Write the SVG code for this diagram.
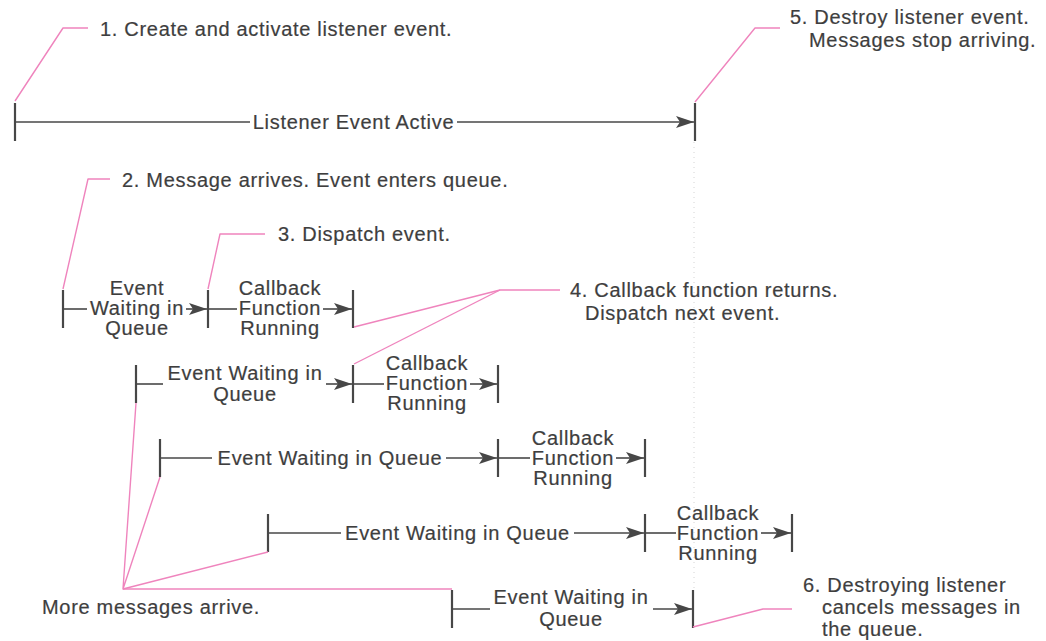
<svg xmlns="http://www.w3.org/2000/svg" width="1046" height="641" viewBox="0 0 1046 641">
  <style>
    .t { font-family: "Liberation Sans", Arial, sans-serif; font-size: 20px; letter-spacing: 0.7px; fill: #3e3e3e; stroke: #3e3e3e; stroke-width: 0.2; }
    .m { text-anchor: middle; }
    .ln { stroke: #474747; stroke-width: 1.6; fill: none; }
    .arr { stroke: #474747; stroke-width: 1.6; fill: none; marker-end: url(#head); }
    .tick { stroke: #474747; stroke-width: 2.2; }
    .lead { stroke: #ef84bd; stroke-width: 1.4; fill: none; stroke-linejoin: round; }
    .guide { stroke: #d4d4d4; stroke-width: 1; stroke-dasharray: 1 4; }
  </style>
  <defs>
    <marker id="head" markerUnits="userSpaceOnUse" markerWidth="20" markerHeight="14" refX="18" refY="6" orient="auto">
      <path d="M0,0 L18,6 L0,12 L4,6 z" fill="#474747"/>
    </marker>
  </defs>
  <rect width="1046" height="641" fill="#ffffff"/>

  <!-- faint guide where the listener is destroyed -->
  <line class="guide" x1="694" y1="142" x2="694" y2="588"/>

  <!-- listener lifetime -->
  <g id="listener-active">
    <line class="tick" x1="15" y1="103" x2="15" y2="141"/>
    <line class="ln" x1="15" y1="122" x2="250" y2="122"/>
    <text class="t m" x="353.5" y="129">Listener Event Active</text>
    <line class="arr" x1="457" y1="122" x2="694" y2="122"/>
    <line class="tick" x1="695" y1="103" x2="695" y2="141"/>
  </g>

  <!-- first event: waiting then callback -->
  <g id="event-1">
    <line class="tick" x1="63" y1="290" x2="63" y2="328"/>
    <line class="ln" x1="63" y1="309" x2="87" y2="309"/>
    <text class="t m" x="137" y="295">Event</text>
    <text class="t m" x="137" y="315">Waiting in</text>
    <text class="t m" x="137" y="335">Queue</text>
    <line class="arr" x1="186" y1="309" x2="207" y2="309"/>
    <line class="tick" x1="208" y1="290" x2="208" y2="328"/>
    <line class="ln" x1="208" y1="309" x2="237" y2="309"/>
    <text class="t m" x="280" y="295">Callback</text>
    <text class="t m" x="280" y="315">Function</text>
    <text class="t m" x="280" y="335">Running</text>
    <line class="arr" x1="323" y1="309" x2="352" y2="309"/>
    <line class="tick" x1="353" y1="290" x2="353" y2="328"/>
  </g>

  <!-- second event -->
  <g id="event-2">
    <line class="tick" x1="136" y1="365" x2="136" y2="403"/>
    <line class="ln" x1="136" y1="384" x2="163" y2="384"/>
    <text class="t m" x="245" y="380">Event Waiting in</text>
    <text class="t m" x="245" y="401">Queue</text>
    <line class="arr" x1="326" y1="384" x2="352" y2="384"/>
    <line class="tick" x1="353" y1="365" x2="353" y2="403"/>
    <line class="ln" x1="353" y1="384" x2="384" y2="384"/>
    <text class="t m" x="427" y="370">Callback</text>
    <text class="t m" x="427" y="390">Function</text>
    <text class="t m" x="427" y="410">Running</text>
    <line class="arr" x1="470" y1="384" x2="497" y2="384"/>
    <line class="tick" x1="498" y1="365" x2="498" y2="403"/>
  </g>

  <!-- third event -->
  <g id="event-3">
    <line class="tick" x1="160" y1="439" x2="160" y2="477"/>
    <line class="ln" x1="160" y1="458" x2="212" y2="458"/>
    <text class="t m" x="330" y="465">Event Waiting in Queue</text>
    <line class="arr" x1="446" y1="458" x2="497" y2="458"/>
    <line class="tick" x1="498" y1="439" x2="498" y2="477"/>
    <line class="ln" x1="498" y1="458" x2="530" y2="458"/>
    <text class="t m" x="573" y="445">Callback</text>
    <text class="t m" x="573" y="465">Function</text>
    <text class="t m" x="573" y="485">Running</text>
    <line class="arr" x1="616" y1="458" x2="644" y2="458"/>
    <line class="tick" x1="645" y1="439" x2="645" y2="477"/>
  </g>

  <!-- fourth event -->
  <g id="event-4">
    <line class="tick" x1="268" y1="514" x2="268" y2="552"/>
    <line class="ln" x1="268" y1="533" x2="341" y2="533"/>
    <text class="t m" x="457.5" y="540">Event Waiting in Queue</text>
    <line class="arr" x1="574" y1="533" x2="644" y2="533"/>
    <line class="tick" x1="645" y1="514" x2="645" y2="552"/>
    <line class="ln" x1="645" y1="533" x2="676" y2="533"/>
    <text class="t m" x="718" y="520">Callback</text>
    <text class="t m" x="718" y="540">Function</text>
    <text class="t m" x="718" y="560">Running</text>
    <line class="arr" x1="761" y1="533" x2="791" y2="533"/>
    <line class="tick" x1="792" y1="514" x2="792" y2="552"/>
  </g>

  <!-- fifth event, cancelled in the queue -->
  <g id="event-5">
    <line class="tick" x1="452" y1="590" x2="452" y2="628"/>
    <line class="ln" x1="452" y1="609" x2="490" y2="609"/>
    <text class="t m" x="571" y="604">Event Waiting in</text>
    <text class="t m" x="571" y="626">Queue</text>
    <line class="arr" x1="653" y1="609" x2="692" y2="609"/>
    <line class="tick" x1="693" y1="590" x2="693" y2="628"/>
  </g>

  <!-- annotations -->
  <g id="note-1">
    <text class="t" x="100" y="36">1. Create and activate listener event.</text>
  </g>
  <g id="note-2">
    <text class="t" x="122" y="187">2. Message arrives. Event enters queue.</text>
  </g>
  <g id="note-3">
    <text class="t" x="278" y="241">3. Dispatch event.</text>
  </g>
  <g id="note-4">
    <text class="t" x="570" y="297">4. Callback function returns.</text>
    <text class="t" x="585" y="320">Dispatch next event.</text>
  </g>
  <g id="note-5">
    <text class="t" x="790" y="24">5. Destroy listener event.</text>
    <text class="t" x="809" y="47">Messages stop arriving.</text>
  </g>
  <g id="note-6">
    <text class="t" x="803" y="592">6. Destroying listener</text>
    <text class="t" x="822" y="614">cancels messages in</text>
    <text class="t" x="822" y="636">the queue.</text>
  </g>
  <g id="note-more">
    <text class="t" x="42" y="614">More messages arrive.</text>
  </g>

  <!-- leader lines -->
  <g id="connectors">
    <polyline class="lead" points="15,101 63,28 88,28"/>
    <polyline class="lead" points="695,102 755,28 780,28"/>
    <polyline class="lead" points="63,289 88,179 110,179"/>
    <polyline class="lead" points="208,289 220,234 265,234"/>
    <polyline class="lead" points="354,327 500,290 560,290"/>
    <polyline class="lead" points="354,364 500,290"/>
    <polyline class="lead" points="136,403 123,589 160,477"/>
    <polyline class="lead" points="123,589 268,552"/>
    <polyline class="lead" points="123,589 452,589"/>
    <polyline class="lead" points="693,627 763,609 792,609"/>
  </g>
</svg>
